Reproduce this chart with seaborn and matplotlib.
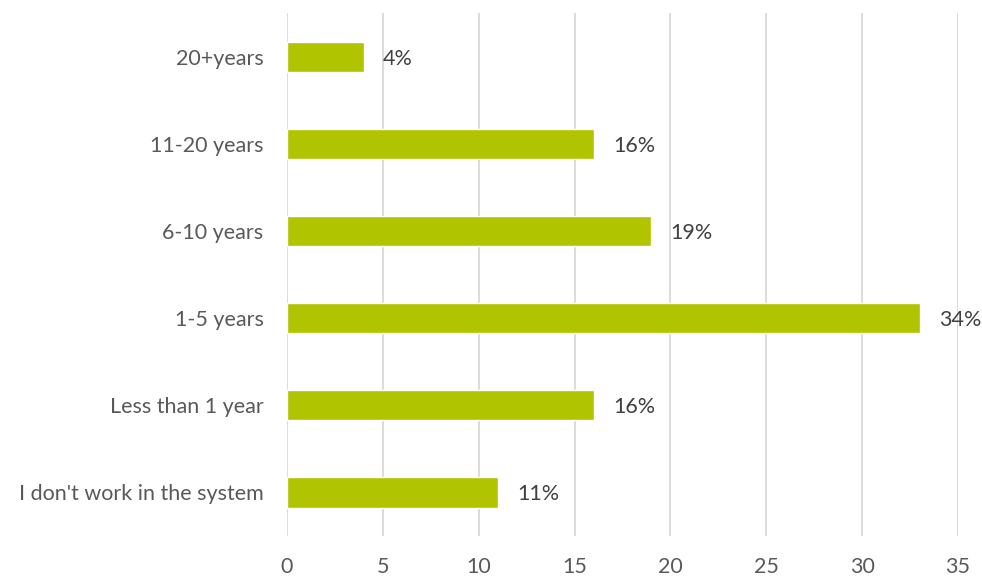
import matplotlib
matplotlib.use("Agg")
import matplotlib.pyplot as plt
import seaborn as sns
import pandas as pd

categories = ["20+years", "11-20 years", "6-10 years", "1-5 years",
              "Less than 1 year", "I don't work in the system"]
values = [4, 16, 19, 33, 16, 11]
value_labels = ["4%", "16%", "19%", "34%", "16%", "11%"]
x_ticks = [0, 5, 10, 15, 20, 25, 30, 35]

sns.set_theme(style="white")
plt.rcParams['font.family'] = ['Lato', 'DejaVu Sans']

df = pd.DataFrame({"category": categories, "value": values})

fig = plt.figure(figsize=(9.82, 5.78), dpi=100)
ax = fig.add_axes([0.2923, 0.073, 0.9756 - 0.2923, 0.977 - 0.073])

sns.barplot(data=df, x="value", y="category", orient="h", color="#B0C400",
            saturation=1, width=0.35, ax=ax, zorder=3)

ax.set_xlim(0, 35)
ax.set_xticks(x_ticks)
ax.grid(axis="x", color="#D9D9D9", linewidth=1.3, zorder=0)
ax.set_axisbelow(True)
for s in ax.spines.values():
    s.set_visible(False)
ax.set_xlabel("")
ax.set_ylabel("")
ax.tick_params(axis="both", length=0, labelsize=15.5, labelcolor="#595959")
ax.tick_params(axis="x", pad=15)
ax.tick_params(axis="y", pad=17)

for cont in ax.containers:
    texts = ax.bar_label(cont, labels=value_labels, padding=14, fontsize=15.5,
                         color="#404040")
    for t in texts:
        t.set_va("center_baseline")

fig.savefig("out.png", dpi=100)
